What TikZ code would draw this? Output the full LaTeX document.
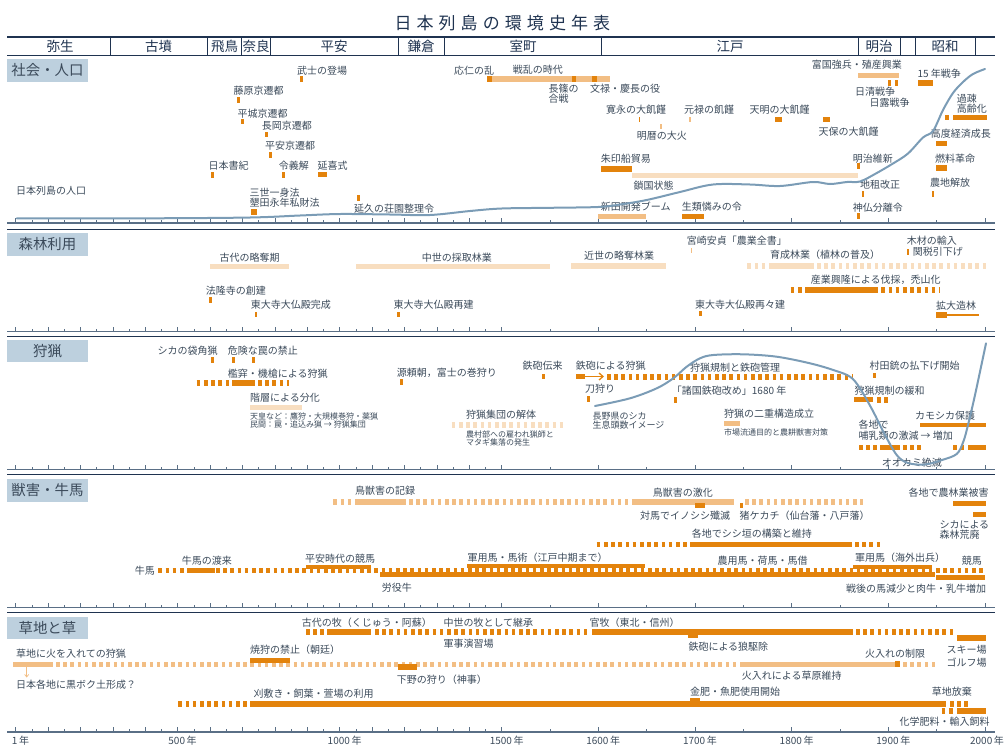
\documentclass[tikz,border=0pt]{standalone}
\usepackage{fontspec}
\setmainfont{Noto Sans CJK JP}
\usetikzlibrary{arrows.meta}
\definecolor{ink}{HTML}{3B4A5A}
\definecolor{navy}{HTML}{1F3350}
\definecolor{axisc}{HTML}{5A6F86}
\definecolor{evhot}{HTML}{E3830C}
\definecolor{evmid}{HTML}{F2BE84}
\definecolor{evpale}{HTML}{F8DEC0}
\definecolor{popc}{HTML}{7B9CB6}
\definecolor{secbg}{HTML}{BDD0DE}
\begin{document}
\begin{tikzpicture}[x=1pt,y=-1pt,
    declare function={xof(\t)=(\t<1500.5)*(15.7+0.3241*\t)+(\t>1500.5)*(501.7+0.967*(\t-1500));},
    lbl/.style={anchor=west,inner sep=0pt,text=ink,font=\fontsize{10}{11}\selectfont},
    sml/.style={lbl,font=\fontsize{8}{8.3}\selectfont},
    eralbl/.style={inner sep=0pt,text=navy,font=\fontsize{13.5}{14}\selectfont},
    secbox/.style={fill=secbg,minimum width=81pt,minimum height=22.5pt,inner sep=0pt,text=ink,font=\fontsize{14.4}{15}\selectfont},
    dbar/.style={line width=5.6pt,dash pattern=on 3.6pt off 3.6pt},
    popline/.style={popc,line width=2pt,line cap=round,line join=round},
    secrule/.style={navy,line width=1.2pt},
    tickln/.style={axisc,line width=0.8pt}]
\useasboundingbox (0,0) rectangle (1007,745);

% title and eras
\foreach \c [count=\i] in {日,本,列,島,の,環,境,史,年,表}
    \node[inner sep=0pt,text=navy,font=\fontsize{17}{18}\selectfont] (t\i) at ({403+(\i-1)*22.08},23.3) {\c};
\draw[secrule] (7,37) -- (995,37);
\draw[secrule] (7,55.2) -- (995,55.2);
\foreach \x in {110,207.3,241.7,270,398.3,444.3,601.7,858.3,900,915,975}
    \draw[navy,line width=0.9pt] (\x,37) -- (\x,55.2);
\node[eralbl] (yayoi) at (60,46.5) {弥生};
\node[eralbl] (kofun) at (158.6,46.5) {古墳};
\node[eralbl] (asuka) at (224.5,46.5) {飛鳥};
\node[eralbl] (nara) at (256,46.5) {奈良};
\node[eralbl] (heianE) at (334,46.5) {平安};
\node[eralbl] (kamakura) at (421,46.5) {鎌倉};
\node[eralbl] (muromachi) at (523,46.5) {室町};
\node[eralbl] (edo) at (730,46.5) {江戸};
\node[eralbl] (meiji) at (879,46.5) {明治};
\node[eralbl] (showa) at (945,46.5) {昭和};

% axes
\foreach \ay in {223,331.7,469.5,607.5,732} {
    \draw[axisc,line width=1.3pt] (7,\ay) -- (995,\ay);
    \foreach \yy in {0,50,...,2000} {
        \pgfmathsetmacro\tx{xof(\yy)}
        \pgfmathparse{int(mod(\yy,100))}
        \ifnum\pgfmathresult=0
            \draw[tickln] (\tx,\ay) -- (\tx,\ay-5);
        \else
            \draw[tickln] (\tx,\ay) -- (\tx,\ay-3);
        \fi
    }
}
\foreach \ry in {229.5,336.2,474.8,612.7}
    \draw[secrule] (7,\ry) -- (995,\ry);
\foreach \yy/\lab/\dx [count=\i] in {0/1/-1,500/500/-1,1000/1000/-1,1500/1500/-1,1600/1600/-1,1700/1700/-1,1800/1800/-1,1900/1900/-1,2000/2000/-4}
    \node[anchor=base,inner sep=0pt,text=ink,font=\fontsize{10}{11}\selectfont] (ax\i) at ({xof(\yy)+\dx},744) {\lab\makebox[0pt][l]{\,年}};

% sections
\node[secbox] (s1) at (47.5,70.5) {社会・人口};
\node[secbox] (s2) at (47.5,244.5) {森林利用};
\node[secbox] (s3) at (47.5,351) {狩猟};
\node[secbox] (s4) at (47.5,490.5) {獣害・牛馬};
\node[secbox] (s5) at (47.5,628) {草地と草};

% 社会・人口
\node[lbl] (bushi) at (297,70.7) {武士の登場};
\fill[evhot] (300,76) rectangle (303.3,81.7);
\node[lbl] (fujiwara) at (233.3,90.7) {藤原京遷都};
\fill[evhot] (237.3,97.3) rectangle (240,102.7);
\node[lbl] (heijo) at (237.3,113.3) {平城京遷都};
\fill[evhot] (240.7,119) rectangle (243.7,124.3);
\node[lbl] (nagaoka) at (261.7,126) {長岡京遷都};
\fill[evhot] (265,132) rectangle (267.7,137.3);
\node[lbl] (heiankyo) at (265,145.7) {平安京遷都};
\fill[evhot] (268.7,152) rectangle (271.7,157.7);
\node[lbl] (shoki) at (208.3,165.7) {日本書紀};
\fill[evhot] (211,172.3) rectangle (213.7,177.7);
\node[lbl] (ryogige) at (278.7,165.7) {令義解};
\fill[evhot] (282,172.3) rectangle (284.7,177.7);
\node[lbl] (engishiki) at (317.3,165.7) {延喜式};
\fill[evhot] (318.3,171.7) rectangle (326.7,177.3);
\node[lbl] (jinko) at (16,190.7) {日本列島の人口};
\node[lbl] (sanze) at (249.3,192.3) {三世一身法};
\node[lbl] (konden) at (249.3,202.7) {墾田永年私財法};
\fill[evhot] (250.7,209.3) rectangle (256.7,215);
\node[lbl] (enkyu) at (354,208.3) {延久の荘園整理令};
\fill[evhot] (356.7,195) rectangle (360,201);
\node[lbl] (onin) at (454,70.7) {応仁の乱};
\node[lbl] (senran) at (512.7,69.3) {戦乱の時代};
\fill[evmid] (487.3,76) rectangle (610,81.7);
\fill[evhot] (487.3,76) rectangle (491.7,81.7);
\fill[evhot] (572.3,76) rectangle (575.7,81.7);
\fill[evhot] (591.7,76) rectangle (596.7,81.7);
\node[lbl,align=left,font=\fontsize{10}{10.7}\selectfont] (nagashino) at (548.3,93.7) {長篠の\\合戦};
\node[lbl] (bunroku) at (590,88.3) {文禄・慶長の役};
\node[lbl] (kanei) at (606,110) {寛永の大飢饉};
\fill[evhot] (638.7,116.7) rectangle (640.2,122.3);
\node[lbl] (meireki) at (636.7,136) {明暦の大火};
\fill[evmid] (660,124) rectangle (661.7,129.3);
\node[lbl] (genroku) at (684,110) {元禄の飢饉};
\fill[evmid] (689,116.7) rectangle (690.7,122.3);
\node[lbl] (tenmei) at (749.3,110) {天明の大飢饉};
\fill[evhot] (775,116.7) rectangle (782.3,122.3);
\fill[evhot] (822.7,116.7) rectangle (830,122.3);
\node[lbl] (tenpo) at (818.3,131.5) {天保の大飢饉};
\node[lbl] (shuin) at (600.7,159) {朱印船貿易};
\fill[evhot] (600.7,166) rectangle (632,172);
\fill[evpale] (632,172.7) rectangle (857.7,178);
\node[lbl] (sakoku) at (633.3,186) {鎖国状態};
\node[lbl] (shinden) at (600.7,206.7) {新田開発ブーム};
\fill[evmid] (598.3,214) rectangle (646,219.3);
\node[lbl] (shorui) at (681.7,206.7) {生類憐みの令};
\fill[evhot] (681.7,214) rectangle (704.3,219.3);
\node[lbl] (ishin) at (852.7,158.3) {明治維新};
\fill[evhot] (857.3,163.3) rectangle (860,169.3);
\node[lbl] (chiso) at (860,185) {地租改正};
\fill[evhot] (861.7,190.7) rectangle (863.7,196.7);
\node[lbl] (shinbutsu) at (852.7,207.3) {神仏分離令};
\fill[evhot] (857.3,213.3) rectangle (860,219);
\node[lbl] (fukoku) at (811.7,64.3) {富国強兵・殖産興業};
\fill[evmid] (858.3,72.7) rectangle (899.3,78.3);
\fill[evhot] (887.7,80) rectangle (890.7,85.7);
\fill[evhot] (895,80) rectangle (898,85.7);
\node[lbl] (nisshin) at (855,91.7) {日清戦争};
\node[lbl] (nichiro) at (869.3,102.7) {日露戦争};
\node[lbl] (jugonen) at (917.3,73.3) {15 年戦争};
\fill[evhot] (918.3,80) rectangle (933.3,85.7);
\node[lbl,align=left,font=\fontsize{10}{10}\selectfont] (kaso) at (956.7,103.3) {過疎\\高齢化};
\fill[evhot] (945,115) rectangle (948.7,120);
\fill[evhot] (952.7,115) rectangle (986.7,120);
\node[lbl] (kodo) at (930.7,134) {高度経済成長};
\fill[evhot] (936,140.7) rectangle (946.7,145.7);
\node[lbl] (nenryo) at (935,158.3) {燃料革命};
\fill[evhot] (936,165) rectangle (946.7,170.7);
\node[lbl] (nochi) at (930,182.7) {農地解放};
\fill[evhot] (931.7,190.7) rectangle (933.7,196.7);
\draw[popline] plot[smooth,tension=0.55] coordinates {(16.7,218.3) (150,218.3) (250,217.5) (300,215.5) (340,214) (390,214.5) (430,215) (470,211) (501.7,208.5) (550,207.8) (598,207) (620,204.5) (646.7,200) (680,192) (713,184.5) (750,184.5) (780,186) (813,182) (830,184) (847,182) (860,181.5) (875,174) (893,163.5) (908,153.5) (923,137.5) (933,131) (943,110) (953,93) (963,82) (973,74) (985,69)};

% 森林利用
\node[lbl] (kodai) at (219.3,257.3) {古代の略奪期};
\fill[evpale] (210,264) rectangle (289.3,269.3);
\node[lbl] (horyuji) at (205.7,290.7) {法隆寺の創建};
\fill[evhot] (209.3,297.3) rectangle (212,303.3);
\node[lbl] (todaiji) at (250.7,305) {東大寺大仏殿完成};
\fill[evhot] (254.7,311.7) rectangle (257.3,317.3);
\node[lbl] (chusei) at (421.7,257.3) {中世の採取林業};
\fill[evpale] (356,264) rectangle (550,269.3);
\node[lbl] (kinsei) at (584,255.7) {近世の略奪林業};
\fill[evpale] (571,263.3) rectangle (666,268.7);
\node[lbl] (saiken) at (393.3,305) {東大寺大仏殿再建};
\fill[evhot] (397.3,311.7) rectangle (400,317.3);
\node[lbl] (zensho) at (686.7,241) {宮崎安貞「農業全書」};
\fill[evmid] (691,247.7) rectangle (692.3,253.3);
\node[lbl] (ikusei) at (770,255) {育成林業（植林の普及）};
\draw[dbar,evpale] (747.3,266) -- (770,266);
\fill[evpale] (770,263.3) rectangle (814,268.7);
\draw[dbar,evpale] (817,266) -- (986.7,266);
\node[lbl] (mokuzai) at (906.7,241) {木材の輸入};
\node[lbl] (kanzei) at (912.7,251.7) {関税引下げ};
\fill[evhot] (907.3,249) rectangle (909,255);
\node[lbl] (sangyo) at (810.7,280) {産業興隆による伐採，禿山化};
\draw[dbar,evhot] (790.7,290.2) -- (806,290.2);
\fill[evhot] (806,287.3) rectangle (878.3,293);
\draw[dbar,evhot] (881.3,290.2) -- (940,290.2);
\node[lbl] (saisaiken) at (695,304.3) {東大寺大仏殿再々建};
\fill[evhot] (699,310.7) rectangle (702,316);
\node[lbl] (kakudai) at (936,306) {拡大造林};
\fill[evhot] (936,312.3) rectangle (946.7,317.7);
\fill[evhot] (946.7,314.3) rectangle (979.3,316);

% 狩猟
\node[lbl] (fukuro) at (157.3,350.7) {シカの袋角猟};
\fill[evhot] (211.3,357.3) rectangle (214,363.3);
\node[lbl] (kiken) at (227.7,350.7) {危険な罠の禁止};
\fill[evhot] (232,357.3) rectangle (234.7,363.3);
\fill[evhot] (252,357.3) rectangle (254.7,363.3);
\node[lbl] (kansei) at (227.7,374) {檻穽・機槍による狩猟};
\draw[dbar,evhot] (196.7,382.8) -- (231.7,382.8);
\fill[evhot] (231.7,380) rectangle (255,385.7);
\draw[dbar,evhot] (258,382.8) -- (289.3,382.8);
\node[lbl] (kaiso) at (250,397.3) {階層による分化};
\fill[evpale] (250,405) rectangle (302.3,410.3);
\node[sml,align=left] (kaisonote) at (250,420.8) {天皇など：鷹狩・大規模巻狩・薬猟\\民間：罠・追込み猟 → 狩猟集団};
\node[lbl] (yoritomo) at (396.7,372.7) {源頼朝，富士の巻狩り};
\fill[evhot] (400,379) rectangle (402.7,385);
\node[lbl] (denrai) at (522.3,366) {鉄砲伝来};
\fill[evhot] (542,374) rectangle (545.3,379.3);
\node[lbl] (teppo) at (575.7,366) {鉄砲による狩猟};
\fill[evhot] (575.7,374) rectangle (585,379);
\coordinate (gunA) at (585,376.5);
\coordinate (gunB) at (604,376.5);
\draw[evhot,line width=1.3pt,-{Straight Barb[length=4pt,width=7pt]}] (gunA) -- (gunB);
\draw[dbar,evhot] (607,376.8) -- (853.3,376.8);
\node[lbl] (katana) at (585,388.3) {刀狩り};
\fill[evhot] (586.7,396) rectangle (590,401.7);
\node[lbl] (kaitai) at (466,415) {狩猟集団の解体};
\draw[dbar,evpale] (451.7,425) -- (563.3,425);
\node[sml,align=left] (matagi) at (466,438.3) {農村部への雇われ猟師と\\マタギ集落の発生};
\node[lbl,align=left,font=\fontsize{9}{9}\selectfont] (nagano) at (592.3,420.5) {長野県のシカ\\生息頭数イメージ};
\node[lbl] (kisei) at (690,367.3) {狩猟規制と鉄砲管理};
\node[lbl] (shokoku) at (671.7,390.7) {「諸国鉄砲改め」1680 年};
\fill[evhot] (674,397.3) rectangle (677.3,402.7);
\node[lbl] (niju) at (724,413.3) {狩猟の二重構造成立};
\fill[evmid] (724,421) rectangle (740,426);
\node[sml] (ichiba) at (724,432.3) {市場流通目的と農耕獣害対策};
\node[lbl] (murata) at (869.3,366) {村田銃の払下げ開始};
\fill[evhot] (872.7,373.3) rectangle (876,378.3);
\node[lbl] (kanwa) at (854.3,390.7) {狩猟規制の緩和};
\fill[evhot] (854.3,397.3) rectangle (873.3,402.3);
\draw[dbar,evhot] (876.9,399.8) -- (890,399.8);
\node[lbl,align=left] (gekigen) at (858.3,430.5) {各地で\\哺乳類の激減 → 増加};
\node[lbl] (kamoshika) at (915,416) {カモシカ保護};
\fill[evhot] (920,422.7) rectangle (986,426.7);
\draw[dbar,evhot] (859,447.5) -- (880,447.5);
\fill[evhot] (880,445) rectangle (900,450);
\draw[dbar,evhot] (903,447.5) -- (923.3,447.5);
\draw[dbar,evhot] (953.3,447.5) -- (964,447.5);
\fill[evhot] (968.3,445) rectangle (986,450);
\node[lbl] (ookami) at (881.7,462.3) {オオカミ絶滅};
\draw[popline] plot[smooth,tension=0.55] coordinates {(595,406) (630,398.3) (656.7,388.3) (673.3,378.3) (686.7,366.7) (700,358.3) (713.3,355) (743.3,354.3) (776.7,356.7) (810,363.3) (833.3,370) (850,376.7) (860,388.3) (873.3,411.7) (883.3,431.7) (896.7,455) (908,463) (925,464.5) (942,460) (956.7,454) (963.3,441.7) (968,425) (975,395) (986,343.3)};

% 獣害・牛馬
\node[lbl] (kiroku) at (355,490.7) {鳥獣害の記録};
\draw[dbar,evmid] (333.3,502) -- (355,502);
\fill[evmid] (355,499.3) rectangle (406,504.7);
\draw[dbar,evmid] (409,502) -- (628.3,502);
\node[lbl] (gekika) at (652.7,492.7) {鳥獣害の激化};
\fill[evmid] (631.7,499.3) rectangle (734,504.7);
\fill[evhot] (695,502.7) rectangle (705,508.3);
\fill[evhot] (740,502.7) rectangle (742.5,508.3);
\draw[dbar,evmid] (745,502) -- (863.3,502);
\node[lbl] (tsushima) at (640,516) {対馬でイノシシ殲滅};
\node[lbl] (kekachi) at (739.3,516) {猪ケカチ（仙台藩・八戸藩）};
\node[lbl] (shishigaki) at (691.7,534) {各地でシシ垣の構築と維持};
\draw[dbar,evhot] (596.7,544.5) -- (691.7,544.5);
\fill[evhot] (691.7,541.7) rectangle (851.7,547.3);
\draw[dbar,evhot] (855,544.5) -- (882.7,544.5);
\node[lbl] (higai) at (908.3,492.7) {各地で農林業被害};
\fill[evhot] (953.3,500.7) rectangle (986,505.7);
\fill[evhot] (973.3,511.7) rectangle (986,516.7);
\node[lbl,align=left,font=\fontsize{10}{10}\selectfont] (kohai) at (939.3,530) {シカによる\\森林荒廃};
\node[lbl,anchor=east] (gyuba) at (155,570.7) {牛馬};
\node[lbl] (torai) at (181.7,561) {牛馬の渡来};
\draw[dbar,evhot] (158.3,570.3) -- (985,570.3);
\fill[evhot] (190,567.5) rectangle (215,573.3);
\fill[evhot] (306,564.5) rectangle (370.7,569);
\fill[evhot] (467.3,564) rectangle (645,568.3);
\fill[evhot] (853.3,564.5) rectangle (931.7,569);
\fill[evhot] (380,571.7) rectangle (935,577);
\fill[evhot] (936,575) rectangle (985,580);
\node[lbl] (keiba) at (305,558.3) {平安時代の競馬};
\node[lbl] (roeki) at (381.7,587.3) {労役牛};
\node[lbl] (gunyo) at (467.3,557.3) {軍用馬・馬術（江戸中期まで）};
\node[lbl] (noyo) at (717.3,561) {農用馬・荷馬・馬借};
\node[lbl] (kaigai) at (855,557.3) {軍用馬（海外出兵）};
\node[lbl] (keibaB) at (961.7,561) {競馬};
\node[lbl] (sengo) at (846,588.3) {戦後の馬減少と肉牛・乳牛増加};

% 草地と草
\node[lbl] (maki) at (301.7,622.3) {古代の牧（くじゅう・阿蘇）};
\draw[dbar,evhot] (306,632.2) -- (326.7,632.2);
\fill[evhot] (326.7,629.3) rectangle (370.7,635);
\draw[dbar,evhot] (375,632.2) -- (590,632.2);
\fill[evhot] (591.7,629.3) rectangle (853.3,635);
\draw[dbar,evhot] (856,632.2) -- (956,632.2);
\fill[evhot] (956.7,635) rectangle (986,640.7);
\fill[evhot] (688.3,633.3) rectangle (698.3,638.3);
\node[lbl] (keisho) at (443.3,622.3) {中世の牧として継承};
\node[lbl] (enshu) at (443.3,643.3) {軍事演習場};
\node[lbl] (kanmaki) at (589.3,622.3) {官牧（東北・信州）};
\node[lbl] (kujo) at (688.3,646.7) {鉄砲による狼駆除};
\node[lbl,anchor=east] (ski) at (986.7,649.3) {スキー場};
\node[lbl,anchor=east] (golf) at (986.7,662.7) {ゴルフ場};
\node[lbl] (hiire) at (16,654) {草地に火を入れての狩猟};
\fill[evmid] (12.7,661.7) rectangle (52.7,667.3);
\draw[dbar,evmid] (56,664.5) -- (741.7,664.5);
\fill[evmid] (741.7,661.7) rectangle (898.3,667.3);
\fill[evhot] (895,660.5) rectangle (900,667.3);
\draw[dbar,evmid] (903,664.5) -- (935,664.5);
\coordinate (kuroA) at (26.7,667.3);
\coordinate (kuroB) at (26.7,677.5);
\draw[evmid,line width=0.7pt,-{Straight Barb[length=2.5pt,width=4pt]}] (kuroA) -- (kuroB);
\node[lbl] (kuroboku) at (16,684.3) {日本各地に黒ボク土形成？};
\node[lbl] (yakigari) at (250,650) {焼狩の禁止（朝廷）};
\fill[evhot] (250,658.3) rectangle (290,663.3);
\node[lbl] (shimotsuke) at (396.7,679.3) {下野の狩り（神事）};
\fill[evhot] (398.3,664.3) rectangle (416.7,670);
\node[lbl] (seigen) at (865,654) {火入れの制限};
\node[lbl] (iji) at (741.7,676) {火入れによる草原維持};
\node[lbl] (karishiki) at (253.3,693.3) {刈敷き・飼葉・萱場の利用};
\draw[dbar,evhot] (178.3,703.8) -- (253.3,703.8);
\fill[evhot] (253.3,701) rectangle (946,706.7);
\draw[dbar,evhot] (950,703.8) -- (971,703.8);
\node[lbl] (kinpi) at (690,691.7) {金肥・魚肥使用開始};
\fill[evhot] (690,698.3) rectangle (700,702);
\node[lbl] (hoki) at (931.7,691.7) {草地放棄};
\draw[dbar,evhot] (941.7,711.2) -- (953.3,711.2);
\fill[evhot] (956.7,708.3) rectangle (986,714);
\node[lbl] (kagaku) at (899.3,721.7) {化学肥料・輸入飼料};
\end{tikzpicture}
\end{document}
